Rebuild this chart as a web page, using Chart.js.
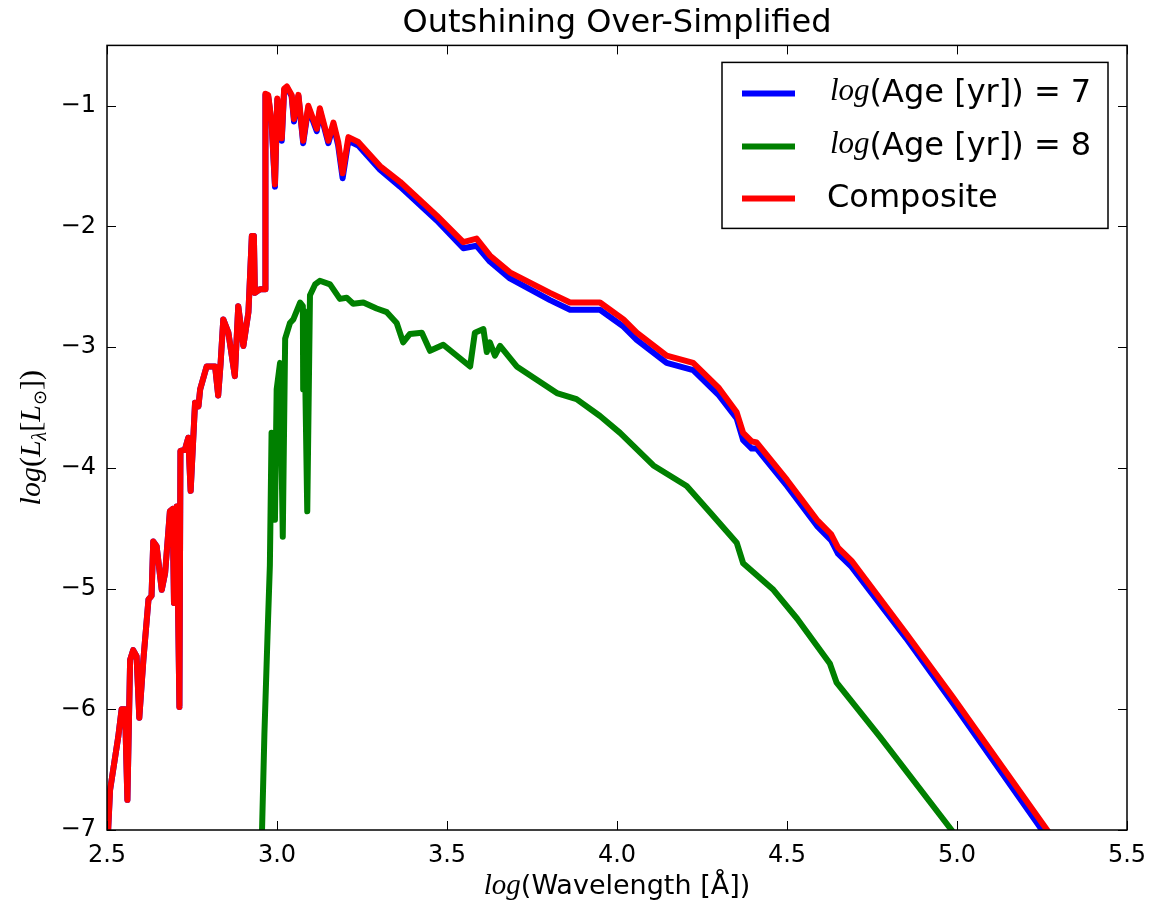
<!DOCTYPE html>
<html>
<head>
<meta charset="utf-8">
<title>Outshining Over-Simplified</title>
<script src="https://cdn.jsdelivr.net/npm/chart.js@4/dist/chart.umd.min.js"></script>
<style>
  html, body { margin: 0; padding: 0; background: #fff; }
</style>
</head>
<body>
<canvas id="sed" width="1150" height="907"></canvas>
<script>
// wavelength grid shared by the young population and the composite (log Angstrom)
var wave = [2.500,2.509,2.533,2.543,2.553,2.560,2.568,2.577,2.587,2.595,2.607,2.622,2.631,2.636,2.646,2.661,2.671,2.685,2.693,2.697,2.705,2.713,2.716,2.729,2.739,2.746,2.759,2.769,2.774,2.793,2.818,2.827,2.834,2.842,2.857,2.876,2.886,2.901,2.916,2.926,2.932,2.935,2.950,2.965,
  2.966,2.974,2.984,2.994,3.001,3.014,3.021,3.029,3.043,3.050,3.063,3.077,3.092,3.117,3.126,3.151,3.166,3.180,3.193,3.210,3.239,3.303,
  3.362,3.470,3.548,3.587,3.626,3.685,3.803,3.862,3.950,4.019,4.058,4.146,4.224,4.300,4.352,4.371,4.396,4.411,4.500,4.588,4.630,4.650,4.690,4.850,4.988,5.265,5.300];

// log(Age) = 7
var lumYoung = [-7.20,-6.67,-6.23,-6.00,-6.00,-6.75,-5.59,-5.51,-5.56,-6.07,-5.59,-5.09,-5.06,-4.61,-4.65,-5.01,-4.87,-4.36,-4.34,-5.12,-4.32,-5.98,-3.86,-3.85,-3.75,-4.19,-3.46,-3.49,-3.35,-3.16,-3.16,-3.40,-3.14,-2.77,-2.88,-3.24,-2.66,-2.99,-2.71,-2.08,-2.08,-2.55,-2.52,-2.52,
  -0.91,-0.92,-1.14,-1.67,-0.95,-1.29,-0.87,-0.85,-0.92,-1.13,-0.92,-1.31,-1.02,-1.21,-1.04,-1.31,-1.16,-1.33,-1.60,-1.29,-1.33,-1.53,
  -1.67,-1.95,-2.18,-2.16,-2.29,-2.43,-2.61,-2.69,-2.69,-2.83,-2.94,-3.13,-3.19,-3.40,-3.59,-3.77,-3.84,-3.84,-4.15,-4.48,-4.60,-4.71,-4.82,-5.41,-5.95,-7.06,-7.20];

// composite
var lumComp = [-7.20,-6.67,-6.23,-6.00,-6.00,-6.75,-5.59,-5.51,-5.56,-6.07,-5.59,-5.09,-5.06,-4.61,-4.65,-5.01,-4.87,-4.36,-4.34,-5.12,-4.32,-5.98,-3.86,-3.85,-3.75,-4.19,-3.46,-3.49,-3.35,-3.16,-3.16,-3.40,-3.14,-2.77,-2.88,-3.24,-2.66,-2.99,-2.71,-2.08,-2.08,-2.55,-2.52,-2.52,
  -0.90,-0.91,-1.13,-1.65,-0.94,-1.27,-0.86,-0.84,-0.91,-1.11,-0.91,-1.29,-1.00,-1.19,-1.02,-1.29,-1.14,-1.30,-1.56,-1.26,-1.30,-1.50,
  -1.63,-1.91,-2.13,-2.10,-2.24,-2.38,-2.55,-2.63,-2.63,-2.77,-2.88,-3.07,-3.13,-3.34,-3.54,-3.71,-3.78,-3.79,-4.10,-4.43,-4.55,-4.66,-4.77,-5.37,-5.90,-7.00,-7.14];

// log(Age) = 8
var waveOld = [2.950,2.956,2.963,2.972,2.979,2.984,2.994,2.999,3.009,3.017,3.024,3.038,3.048,3.068,3.076,3.077,3.080,3.089,3.097,3.112,3.126,3.156,3.185,3.205,3.224,3.254,3.293,3.323,3.352,3.371,3.391,3.426,3.450,3.489,3.568,3.582,3.607,3.617,3.626,3.641,3.656,3.705,3.764,3.823,3.881,3.950,4.009,4.107,4.205,4.274,4.352,4.371,4.460,4.530,4.626,4.646,4.774,4.984,5.000];
var lumOld = [-7.30,-7.00,-6.20,-5.40,-4.81,-3.71,-4.43,-3.35,-3.13,-4.57,-2.93,-2.80,-2.77,-2.63,-2.66,-3.35,-2.70,-4.36,-2.57,-2.48,-2.45,-2.48,-2.60,-2.59,-2.64,-2.63,-2.68,-2.71,-2.80,-2.96,-2.89,-2.88,-3.03,-2.98,-3.16,-2.88,-2.85,-3.04,-2.96,-3.07,-2.99,-3.16,-3.27,-3.38,-3.43,-3.57,-3.71,-3.98,-4.15,-4.37,-4.62,-4.79,-5.01,-5.25,-5.62,-5.78,-6.23,-7.00,-7.08];

var xTicks = [2.5, 3.0, 3.5, 4.0, 4.5, 5.0, 5.5];
var yTicks = [-7, -6, -5, -4, -3, -2, -1];

var seriesLabels = ['log(Age [yr]) = 7', 'log(Age [yr]) = 8', 'Composite'];
var seriesColors = ['#0000ff', '#008000', '#ff0000'];

function pts(xs, ys) {
  return xs.map(function (v, i) { return {x: v, y: ys[i]}; });
}

Chart.defaults.font.family = '"DejaVu Sans"';
Chart.defaults.color = '#000';

var SERIF = '"Liberation Serif"';

// draws pieces of text in different fonts one after the other
function richWidth(ctx, parts) {
  var w = 0;
  parts.forEach(function (p) { ctx.font = p.font; w += ctx.measureText(p.t).width; });
  return w;
}
function richText(ctx, parts, x, y) {
  parts.forEach(function (p) {
    ctx.font = p.font;
    ctx.fillText(p.t, x, y + (p.dy || 0));
    x += ctx.measureText(p.t).width;
  });
}

var framePlugin = {
  id: 'frame',
  afterDraw: function (chart) {
    var ctx = chart.ctx, a = chart.chartArea;
    var xs = chart.scales.x, ys = chart.scales.y;
    ctx.save();
    ctx.strokeStyle = '#000';
    ctx.fillStyle = '#000';

    // inward ticks on all four sides
    ctx.lineWidth = 1;
    ctx.beginPath();
    xTicks.forEach(function (v) {
      var px = Math.round(xs.getPixelForValue(v)) + 0.5;
      ctx.moveTo(px, a.bottom); ctx.lineTo(px, a.bottom - 9);
      ctx.moveTo(px, a.top); ctx.lineTo(px, a.top + 9);
    });
    yTicks.forEach(function (v) {
      var py = Math.round(ys.getPixelForValue(v)) + 0.5;
      ctx.moveTo(a.left, py); ctx.lineTo(a.left + 9, py);
      ctx.moveTo(a.right, py); ctx.lineTo(a.right - 9, py);
    });
    ctx.stroke();

    ctx.lineWidth = 1.5;
    ctx.strokeRect(a.left, a.top, a.right - a.left, a.bottom - a.top);

    // legend box, upper right
    var bx = a.right - 405, by = a.top + 17, bw = 386, bh = 166;
    ctx.fillStyle = '#fff';
    ctx.fillRect(bx, by, bw, bh);
    ctx.strokeStyle = '#000';
    ctx.lineWidth = 1.5;
    ctx.strokeRect(bx, by, bw, bh);
    var rows = [31, 84, 136];
    ctx.textBaseline = 'middle';
    ctx.textAlign = 'left';
    seriesLabels.forEach(function (lab, i) {
      var ry = by + rows[i];
      ctx.strokeStyle = seriesColors[i];
      ctx.lineWidth = 6;
      ctx.beginPath();
      ctx.moveTo(bx + 20, ry); ctx.lineTo(bx + 73, ry);
      ctx.stroke();
      ctx.fillStyle = '#000';
      if (lab.indexOf('log') === 0) {
        richText(ctx, [
          {t: 'log', font: 'italic 31px ' + SERIF, dy: -2},
          {t: lab.slice(3), font: '32px "DejaVu Sans"'}
        ], bx + 108, ry);
      } else {
        ctx.font = '32px "DejaVu Sans"';
        ctx.fillText(lab, bx + 105, ry);
      }
    });

    // x axis title
    ctx.fillStyle = '#000';
    ctx.textBaseline = 'alphabetic';
    var xt = [
      {t: 'log', font: 'italic 29px ' + SERIF},
      {t: '(Wavelength [\u00c5])', font: '27px "DejaVu Sans"'}
    ];
    var w = richWidth(ctx, xt);
    richText(ctx, xt, (a.left + a.right) / 2 - w / 2, 894);

    // y axis title, rotated
    var yt = [
      {t: 'log', font: 'italic 30px ' + SERIF},
      {t: '(', font: '30px ' + SERIF},
      {t: 'L', font: 'italic 30px ' + SERIF},
      {t: '\u03bb', font: 'italic 20px ' + SERIF, dy: 6},
      {t: '[', font: '30px ' + SERIF},
      {t: 'L', font: 'italic 30px ' + SERIF},
      {t: '\u2299', font: '18px "DejaVu Sans"', dy: 6},
      {t: '])', font: '30px ' + SERIF}
    ];
    var wy = richWidth(ctx, yt);
    ctx.translate(40, (a.top + a.bottom) / 2);
    ctx.rotate(-Math.PI / 2);
    richText(ctx, yt, -wy / 2, 0);
    ctx.restore();
  }
};

new Chart('sed', {
  type: 'line',
  data: {
    datasets: [{
      label: seriesLabels[0],
      data: pts(wave, lumYoung),
      borderColor: seriesColors[0],
      order: 3
    }, {
      label: seriesLabels[1],
      data: pts(waveOld, lumOld),
      borderColor: seriesColors[1],
      order: 2
    }, {
      label: seriesLabels[2],
      data: pts(wave, lumComp),
      borderColor: seriesColors[2],
      order: 1
    }]
  },
  options: {
    responsive: false,
    animation: false,
    layout: { padding: { left: 0, right: 23, top: 0, bottom: 0 } },
    elements: {
      line: { borderWidth: 6, tension: 0, borderJoinStyle: 'round', fill: false },
      point: { radius: 0, hoverRadius: 0 }
    },
    datasets: { line: { clip: 0 } },
    scales: {
      x: {
        type: 'linear',
        min: 2.5,
        max: 5.5,
        grid: { display: false, drawTicks: false },
        border: { display: false },
        afterFit: function (s) { s.height = 77; s.paddingLeft = 0; s.paddingRight = 0; },
        afterBuildTicks: function (s) { s.ticks = xTicks.map(function (v) { return {value: v}; }); },
        ticks: {
          padding: 11,
          maxRotation: 0,
          font: { size: 24 },
          callback: function (v) { return Number(v).toFixed(1); }
        }
      },
      y: {
        min: -7,
        max: -0.5,
        grid: { display: false, drawTicks: false },
        border: { display: false },
        afterFit: function (s) { s.width = 107; s.paddingTop = 0; s.paddingBottom = 0; },
        afterBuildTicks: function (s) { s.ticks = yTicks.map(function (v) { return {value: v}; }); },
        ticks: {
          padding: 11,
          font: { size: 24 },
          callback: function (v) { return String(v).replace('-', '\u2212'); }
        }
      }
    },
    plugins: {
      legend: { display: false },
      tooltip: { enabled: false },
      title: {
        display: true,
        fullSize: false,
        text: 'Outshining Over-Simplified',
        color: '#000',
        font: { size: 32, weight: 'normal' },
        padding: { top: 4, bottom: 3 }
      }
    }
  },
  plugins: [framePlugin]
});
</script>
</body>
</html>
